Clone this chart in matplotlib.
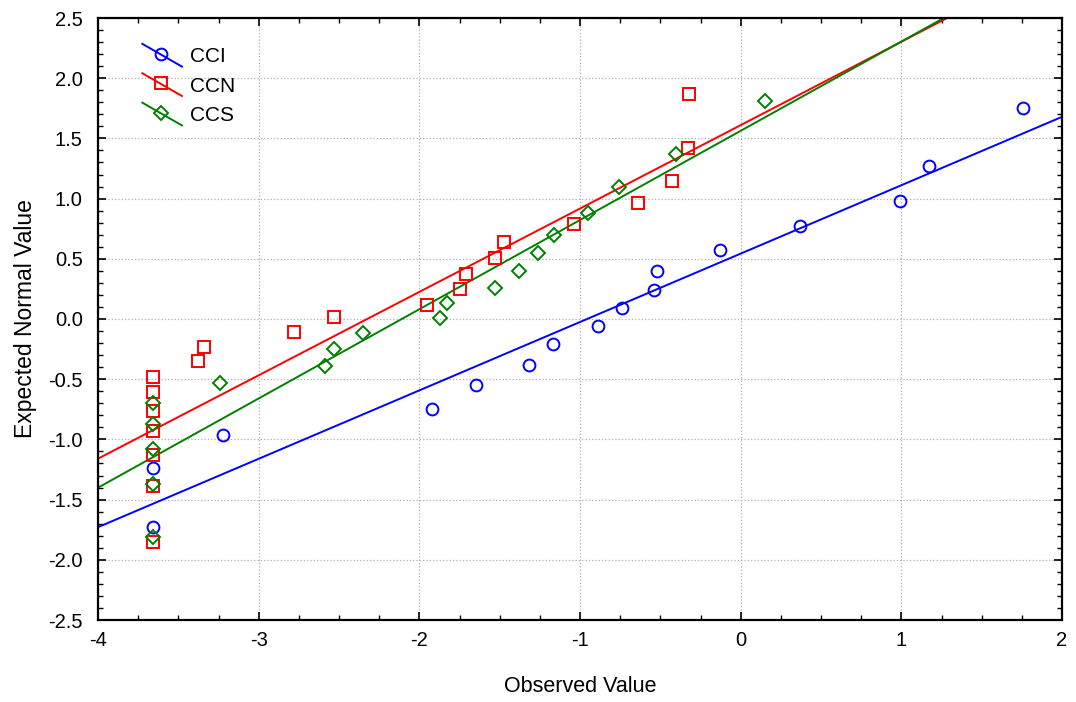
import numpy as np
import matplotlib
matplotlib.use('Agg')
import matplotlib.pyplot as plt
from matplotlib.lines import Line2D
from matplotlib.legend_handler import HandlerLine2D
from matplotlib.ticker import MultipleLocator

plt.rcParams['font.family'] = ['Liberation Sans', 'DejaVu Sans']

#observed / expected normal values
cci_x = [-3.66, -3.66, -3.22, -1.92, -1.65, -1.32, -1.17, -0.89, -0.74, -0.54,
         -0.52, -0.13, 0.37, 0.99, 1.17, 1.76]
cci_y = [-1.73, -1.24, -0.96, -0.75, -0.55, -0.38, -0.21, -0.06, 0.09, 0.24,
         0.40, 0.57, 0.77, 0.98, 1.27, 1.75]

ccn_x = [-3.66, -3.66, -3.66, -3.66, -3.66, -3.66, -3.66, -3.38, -3.34, -2.78,
         -2.53, -1.95, -1.75, -1.71, -1.53, -1.47, -1.04, -0.64, -0.43, -0.33,
         -0.32]
ccn_y = [-0.48, -0.61, -0.76, -0.93, -1.13, -1.39, -1.85, -0.35, -0.23, -0.11,
         0.02, 0.12, 0.25, 0.37, 0.51, 0.64, 0.79, 0.96, 1.15, 1.42, 1.87]

ccs_x = [-3.66, -3.66, -3.66, -3.66, -3.66, -3.24, -2.59, -2.53, -2.35, -1.87,
         -1.83, -1.53, -1.38, -1.26, -1.16, -0.95, -0.76, -0.40, 0.15]
ccs_y = [-0.70, -0.87, -1.08, -1.37, -1.81, -0.53, -0.39, -0.25, -0.12, 0.01,
         0.13, 0.26, 0.40, 0.55, 0.70, 0.88, 1.10, 1.37, 1.81]

#fitted lines: (intercept, slope)
cci_fit = (0.543, 0.568)
ccn_fit = (1.610, 0.6925)
ccs_fit = (1.563, 0.741)

series = [('CCI', cci_x, cci_y, cci_fit, 'blue', 'o'),
          ('CCN', ccn_x, ccn_y, ccn_fit, 'red', 's'),
          ('CCS', ccs_x, ccs_y, ccs_fit, 'green', 'D')]


class SlantHandler(HandlerLine2D):
    #statistica style legend key: slanted line with marker in the middle
    def create_artists(self, legend, orig_handle, xdescent, ydescent,
                       width, height, fontsize, trans):
        x0, x1 = -xdescent, -xdescent + width
        yc = -ydescent + height / 2.0
        dy = height * 0.78
        ln = Line2D([x0, x1], [yc + dy, yc - dy], color=orig_handle.get_color(),
                    lw=orig_handle.get_linewidth())
        mk = Line2D([(x0 + x1) / 2.0 - 1], [yc + dy * 0.1],
                    marker=orig_handle.get_marker(), ls='none',
                    markersize=orig_handle.get_markersize(),
                    markerfacecolor='none',
                    markeredgecolor=orig_handle.get_color(),
                    markeredgewidth=orig_handle.get_markeredgewidth())
        ln.set_transform(trans)
        mk.set_transform(trans)
        return [ln, mk]


fig = plt.figure(figsize=(10.76, 7.02), dpi=100)
ax = fig.add_axes([98 / 1076, 1 - 620 / 702, 964 / 1076, 602 / 702])

xx = np.array([-4.0, 2.0])
handles = []
for name, xs, ys, fit, col, mk in series:
    ax.plot(xx, fit[0] + fit[1] * xx, color=col, lw=1.4, zorder=2)
    ms = 7.5 if mk == 'D' else 8.5
    ax.plot(xs, ys, ls='none', marker=mk, markersize=ms, markerfacecolor='none',
            markeredgecolor=col, markeredgewidth=1.4, zorder=3)
    handles.append(Line2D([], [], color=col, lw=1.4, marker=mk, markersize=ms,
                          markeredgewidth=1.4, label=name))

ax.set_xlim(-4, 2)
ax.set_ylim(-2.5, 2.5)
ax.xaxis.set_minor_locator(MultipleLocator(0.25))
ax.yaxis.set_minor_locator(MultipleLocator(0.1))
ax.set_xticks(np.arange(-4, 3, 1))
ax.set_xticklabels(['-4', '-3', '-2', '-1', '0', '1', '2'])
ax.set_yticks(np.arange(-2.5, 2.51, 0.5))
ax.set_yticklabels(['%.1f' % v for v in np.arange(-2.5, 2.51, 0.5)])

ax.tick_params(which='both', direction='in', top=True, right=True, labelsize=14.5)
ax.tick_params(which='major', length=6, width=1.2)
ax.tick_params(which='minor', length=3.5, width=1.0)
ax.tick_params(axis='x', pad=8)
ax.tick_params(axis='y', pad=11)
for s in ax.spines.values():
    s.set_linewidth(1.6)

ax.grid(True, which='major', ls=':', color='#b0b0b0', lw=0.9)
ax.set_axisbelow(True)

ax.set_xlabel('Observed Value', fontsize=15.5, labelpad=19)
ax.set_ylabel('Expected Normal Value', fontsize=16.5, labelpad=8)

ax.legend(handles=handles, loc='upper left', bbox_to_anchor=(0.046, 0.951),
          frameon=False, fontsize=15, handlelength=1.9, handletextpad=0.4,
          labelspacing=0.5, borderpad=0, borderaxespad=0,
          handler_map={Line2D: SlantHandler()})

fig.savefig('out.png', dpi=100)
